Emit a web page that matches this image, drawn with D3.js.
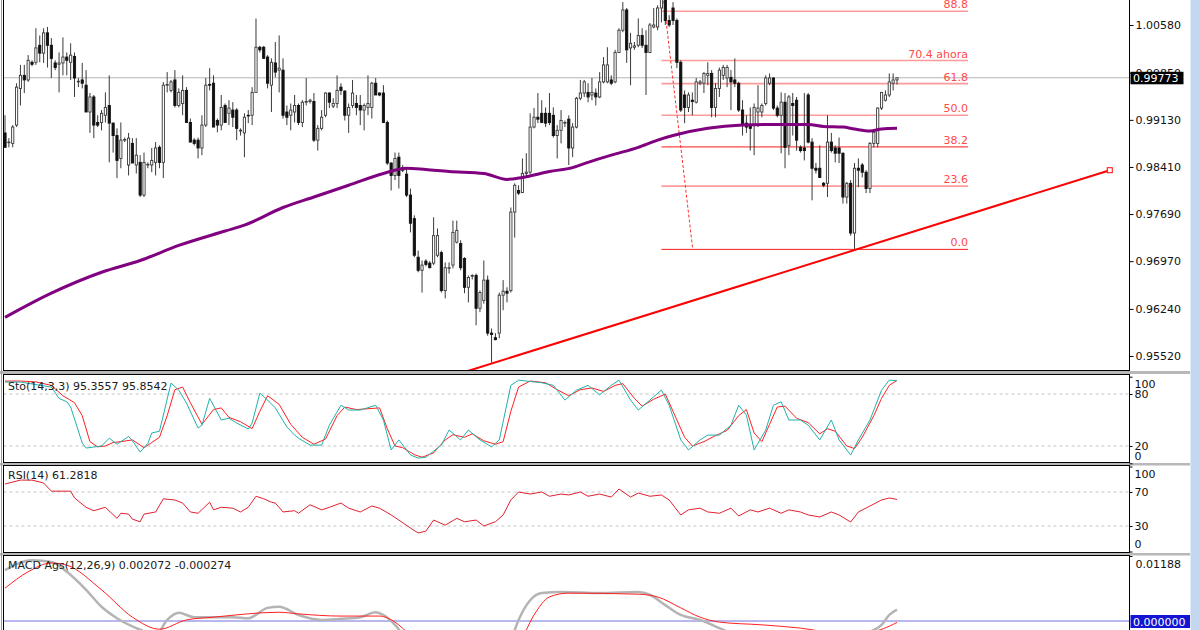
<!DOCTYPE html>
<html><head><meta charset="utf-8">
<script src="https://cdn.jsdelivr.net/npm/d3@7"></script>
<style>
html,body{margin:0;padding:0;background:#fff;overflow:hidden;}
svg{display:block;font-family:"DejaVu Sans",sans-serif;}
</style></head><body>
<svg id="c" width="1200" height="630"></svg>
<script>
// ---------------- DATA ----------------
const opens = [.9893,.9879,.9877,.9905,.9961,.9981,.9974,1.0001,1.0001,1.0027,1.0015,1.0046,1.0027,1.0000,.9998,1.0000,1.0009,1.0001,1.0010,.9971,
.9974,.9966,.9925,.9948,.9909,.9909,.9920,.9935,.9908,.9889,.9854,.9882,.9844,.9877,.9844,.9848,.9798,.9844,.9844,.9848,
.9871,.9848,.9966,.9958,.9974,.9935,.9938,.9958,.9909,.9882,.9882,.9870,.9905,.9967,.9969,.9912,.9905,.9935,.9923,.9928,
.9928,.9896,.9893,.9920,.9920,.9955,1.0024,1.0024,1.0009,.9966,1.0000,.9989,.9989,.9925,.9920,.9925,.9935,.9909,.9940,.9941,
.9941,.9882,.9900,.9920,.9954,.9934,.9938,.9963,.9957,.9920,.9935,.9938,.9935,.9928,.9932,.9932,.9969,.9954,.9954,.9909,
.9847,.9828,.9856,.9840,.9830,.9798,.9762,.9703,.9683,.9697,.9694,.9694,.9706,.9710,.9652,.9686,.9691,.9726,.9724,.9701,
.9657,.9674,.9675,.9625,.9637,.9668,.9587,.9580,.9587,.9645,.9651,.9652,.9772,.9805,.9802,.9831,.9833,.9902,.9917,.9923,
.9923,.9923,.9920,.9889,.9897,.9908,.9914,.9870,.9902,.9946,.9954,.9955,.9951,.9954,.9948,.9971,.9971,.9974,.9971,1.0016,
1.0050,1.0081,1.0023,1.0024,1.0027,1.0042,1.0027,1.0016,1.0055,1.0055,1.0084,1.0099,1.0065,1.0084,1.0065,1.0001,.9951,.9932,.9943,.9940,
.9969,.9969,.9981,.9984,.9932,.9961,.9981,.9977,.9978,.9974,.9969,.9928,.9908,.9905,.9905,.9925,.9925,.9938,.9969,.9977,
.9931,.9920,.9940,.9874,.9938,.9943,.9871,.9870,.9951,.9879,.9839,.9839,.9816,.9816,.9879,.9870,.9870,.9862,.9795,.9816,
.9740,.9839,.9844,.9833,.9808,.9877,.9877,.9931,.9943,.9951,.9969,.9974];
const highs = [.9920,.9885,.9905,.9969,.9997,.9997,1.0012,1.0004,1.0053,1.0042,1.0053,1.0055,1.0038,1.0004,1.0016,1.0039,1.0016,1.0030,1.0016,.9977,
1.0000,.9989,.9954,.9951,.9920,.9928,.9955,.9981,.9909,.9900,.9909,.9886,.9893,.9885,.9885,.9859,.9863,.9848,.9870,.9879,
.9874,.9971,.9986,.9974,.9989,.9961,.9981,.9963,.9915,.9885,.9886,.9920,.9977,.9992,.9981,.9915,.9951,.9938,.9943,.9940,
.9931,.9900,.9923,.9928,.9963,1.0068,1.0026,1.0026,1.0012,1.0007,1.0032,1.0042,1.0007,.9935,.9938,.9951,.9938,.9943,.9977,.9945,
.9954,.9905,.9928,.9955,.9955,.9946,.9981,.9969,.9958,.9938,.9974,.9951,.9951,.9938,.9981,.9971,.9977,.9955,.9966,.9912,
.9848,.9863,.9863,.9844,.9839,.9808,.9767,.9713,.9698,.9700,.9697,.9764,.9747,.9713,.9695,.9695,.9759,.9759,.9729,.9703,
.9675,.9677,.9678,.9652,.9698,.9675,.9594,.9587,.9649,.9668,.9657,.9779,.9816,.9813,.9854,.9862,.9923,.9931,.9954,.9943,
.9932,.9954,.9932,.9905,.9928,.9912,.9920,.9908,.9948,.9974,.9974,.9969,.9977,.9961,.9986,1.0009,1.0024,.9981,1.0020,1.0053,
1.0093,1.0084,1.0046,1.0032,1.0068,1.0053,1.0050,1.0061,1.0084,1.0088,1.0125,1.0111,1.0073,1.0093,1.0068,1.0004,.9958,.9955,.9955,.9977,
.9974,.9986,1.0001,.9989,.9969,.9993,.9997,.9997,.9989,1.0007,.9971,.9943,.9920,.9932,.9938,.9966,.9938,.9981,.9984,.9978,
.9935,.9955,.9954,.9951,.9954,.9948,.9874,.9954,.9954,.9885,.9847,.9874,.9818,.9920,.9893,.9874,.9886,.9863,.9818,.9821,
.9847,.9854,.9847,.9836,.9879,.9897,.9932,.9955,.9958,.9984,.9984,.9978];
const lows = [.9871,.9871,.9871,.9902,.9935,.9954,.9971,.9995,.9997,1.0001,1.0000,.9993,.9977,.9989,.9955,.9981,.9981,.9974,.9948,.9963,
.9961,.9925,.9893,.9885,.9902,.9897,.9909,.9848,.9863,.9824,.9839,.9879,.9828,.9847,.9831,.9795,.9795,.9839,.9833,.9828,
.9839,.9824,.9955,.9955,.9932,.9932,.9920,.9909,.9879,.9874,.9854,.9859,.9902,.9958,.9902,.9894,.9897,.9909,.9905,.9902,
.9882,.9889,.9856,.9908,.9905,.9954,1.0016,1.0007,.9961,.9925,.9978,.9955,.9915,.9905,.9897,.9909,.9905,.9902,.9935,.9938,
.9879,.9866,.9897,.9917,.9931,.9931,.9931,.9951,.9912,.9893,.9931,.9920,.9905,.9897,.9920,.9915,.9951,.9949,.9908,.9844,
.9805,.9821,.9808,.9833,.9795,.9741,.9703,.9680,.9649,.9689,.9686,.9691,.9703,.9649,.9640,.9678,.9686,.9724,.9683,.9648,
.9634,.9669,.9599,.9619,.9632,.9583,.9542,.9576,.9579,.9622,.9634,.9649,.9733,.9798,.9801,.9825,.9830,.9900,.9908,.9908,
.9902,.9905,.9886,.9854,.9877,.9902,.9844,.9856,.9900,.9943,.9948,.9940,.9943,.9935,.9946,.9969,.9969,.9966,.9969,1.0015,
1.0047,1.0000,.9966,1.0020,1.0024,1.0023,.9951,1.0015,1.0053,1.0050,1.0062,1.0058,1.0055,1.0058,.9992,.9925,.9908,.9925,.9920,.9938,
.9966,.9954,.9966,.9917,.9917,.9948,.9974,.9963,.9928,.9963,.9925,.9889,.9893,.9866,.9859,.9902,.9917,.9935,.9966,.9928,
.9917,.9862,.9839,.9859,.9889,.9866,.9863,.9851,.9877,.9790,.9831,.9824,.9810,.9795,.9863,.9848,.9847,.9785,.9785,.9736,
.9715,.9810,.9825,.9801,.9801,.9871,.9871,.9928,.9941,.9948,.9958,.9967];
const closes = [.9871,.9879,.9902,.9963,.9981,.9974,1.0004,.9998,1.0023,1.0015,1.0046,1.0027,1.0007,.9993,1.0000,1.0009,1.0004,1.0012,.9977,.9972,
.9969,.9925,.9948,.9905,.9905,.9923,.9932,.9908,.9889,.9851,.9882,.9883,.9885,.9847,.9859,.9798,.9848,.9845,.9851,.9870,
.9848,.9966,.9967,.9971,.9935,.9955,.9958,.9909,.9879,.9877,.9870,.9905,.9966,.9966,.9902,.9905,.9932,.9909,.9931,.9917,
.9900,.9897,.9917,.9919,.9955,1.0024,1.0020,1.0007,.9969,1.0001,.9986,.9992,.9920,.9917,.9928,.9935,.9909,.9940,.9941,.9943,
.9882,.9900,.9917,.9954,.9940,.9938,.9958,.9958,.9920,.9932,.9954,.9932,.9928,.9935,.9938,.9969,.9951,.9951,.9909,.9847,
.9828,.9854,.9828,.9836,.9798,.9755,.9706,.9683,.9691,.9692,.9687,.9736,.9736,.9652,.9687,.9687,.9741,.9744,.9687,.9657,
.9672,.9675,.9625,.9649,.9668,.9587,.9585,.9577,.9645,.9651,.9648,.9772,.9813,.9801,.9831,.9833,.9902,.9917,.9914,.9909,
.9908,.9909,.9889,.9897,.9912,.9909,.9870,.9902,.9946,.9954,.9971,.9948,.9955,.9948,.9971,.9997,.9997,.9969,1.0016,1.0050,
1.0081,1.0020,1.0030,1.0026,1.0042,1.0027,1.0016,1.0058,1.0058,1.0084,1.0099,1.0065,1.0058,1.0065,1.0001,.9928,.9932,.9951,.9941,.9971,
.9971,.9984,.9984,.9932,.9961,.9989,.9993,.9993,.9971,.9969,.9928,.9905,.9902,.9900,.9932,.9931,.9935,.9977,.9977,.9931,
.9920,.9940,.9871,.9948,.9935,.9882,.9866,.9866,.9879,.9839,.9836,.9825,.9813,.9879,.9866,.9862,.9862,.9795,.9816,.9740,
.9839,.9836,.9833,.9808,.9877,.9894,.9931,.9955,.9951,.9971,.9974,.99773];

// moving average [candle index, price]
const maPoints = [[0,.9611],[12,.9648],[25,.9680],[35,.9698],[45,.9721],[57,.9743],[62,.9752],[72,.9779],[80,.9795],[89,.9813],
[98,.9831],[104,.9839],[109,.9837],[115,.9834],[124,.9831],[130,.9822],[134,.9825],[141,.9834],[147,.9840],[151,.9848],
[157,.9859],[164,.9871],[169,.9882],[173,.9889],[182,.9900],[191,.9905],[199,.9906],[208,.9906],[212,.9903],[217,.9902],
[220,.9899],[224,.9896],[227,.9899],[231,.9900]];

const priceTicks = [1.00580, 0.99850, 0.99130, 0.98410, 0.97690, 0.96970, 0.96240, 0.95520];
const lastPrice = 0.99773;

// Fibonacci retracement
const fibHigh = 1.0125, fibLow = 0.9715;
const fibLevels = [0, 23.6, 38.2, 50.0, 61.8, 70.4, 88.8, 100];
const fibLabels = ["0.0", "23.6", "38.2", "50.0", "61.8", "70.4 ahora", "88.8", "100.0"];
const fibAnchorIdx = [170, 178.1];
const fibRightIdx = 249.4;

// trend line [index, price]
const trendIdx = [116, 286.1];
const trendPrice = [0.9522, 0.9836];

// Stochastic [index, value]
const stoMain = [[0,93.8],[4,93.8],[12,88],[14,75],[16,71],[17,65],[20,23.5],[21,17.6],[23,18.8],[25,20],[27,29],[29,22],[32,31],[33,26],[35,13],[37,23],[38,35],[40,37],[43,92.6],[45,84.5],[47,69.5],[50,40.7],[51,44],[53,75],[56,50],[58,52],[60,46.5],[63,39.6],[64,46.5],[66,81],[68,73],[70,64],[73,42],[75,32.6],[76,29],[79,21],[82,21],[84,44],[87,67],[89,61.5],[92,61.5],[96,67],[98,50],[100,15.4],[102,27],[105,9.6],[107,6],[109,7],[113,21],[115,38.4],[118,27],[120,38.4],[123,27],[126,19],[128,27],[131,90],[133,96],[139,93],[142,90],[145,73],[148,84.5],[151,90],[154,79],[157,90],[159,96],[162,73],[164,61.5],[167,73],[170,84.5],[172,67],[175,27],[177,15.4],[180,27],[182,32.6],[185,32.6],[188,44],[190,67],[192,55.7],[194,15.4],[197,38.4],[199,67],[201,71],[203,50],[206,50],[208,44],[211,27],[214,50],[216,27],[219,9.6],[221,27],[224,50],[227,84.5],[229,96],[231,95.36]];
const stoSignal = [[0,95],[4,95],[8,94],[12,90],[15,78],[18,70],[20,55],[22,25],[24,19],[26,20],[28,24],[30,25],[33,27],[36,18],[38,24],[40,30],[42,55],[44,85],[46,88],[48,70],[51,45],[54,62],[56,64],[58,53],[61,48],[64,40],[66,60],[68,78],[71,68],[74,45],[77,30],[80,22],[83,28],[86,55],[88,65],[91,62],[94,63],[97,64],[99,40],[101,20],[103,18],[106,10],[108,7],[111,12],[114,27],[116,33],[119,30],[121,34],[124,26],[127,22],[129,25],[131,60],[133,88],[136,95],[140,93],[143,85],[146,78],[149,85],[152,87],[155,83],[158,90],[160,92],[163,75],[165,66],[168,74],[171,80],[173,60],[176,30],[178,20],[181,25],[184,32],[187,38],[190,55],[192,62],[194,35],[196,25],[198,45],[200,65],[202,66],[205,52],[208,47],[211,34],[213,40],[215,37],[218,20],[220,17],[222,30],[225,55],[227,75],[229,90],[231,95.85]];
const stoLevels = [80, 20];
const stoTicks = [100, 80, 20, 0];

// RSI [index, value]
const rsiValues = [[0,79.4],[4,84],[7,84],[10,80.6],[12,71],[17,71],[18,63],[21,52],[23,48],[26,52],[29,39],[30,45],[32,44],[33,38],[35,35],[36,44],[39,46.5],[41,62],[44,60.6],[46,57],[48,46.5],[50,45],[53,58],[54,49],[56,52],[59,51],[61,46.5],[63,52],[65,65],[67,62],[69,58],[70,57],[72,46.5],[75,48],[76,45],[79,55],[82,49],[84,52],[87,57],[89,51],[92,46.5],[95,53.5],[97,51],[100,43],[102,37],[105,27.6],[107,21.8],[109,24],[111,37],[114,31],[117,39],[119,35],[122,37],[124,30],[127,35],[129,43],[131,60.6],[133,70],[136,67.6],[139,70],[141,65],[144,67.6],[146,66.5],[149,70],[151,65],[154,67.6],[157,64],[159,73.5],[162,64],[164,68.8],[167,65],[170,66.5],[172,60.6],[175,43],[177,49],[180,51],[182,46.5],[185,45],[188,51],[190,41.8],[193,49],[195,46.5],[198,51],[201,45],[203,49],[206,46.5],[208,43],[211,40.6],[214,46.5],[216,43],[219,34.7],[221,46.5],[224,53.5],[227,60.6],[229,63],[231,61.28]];
const rsiLevels = [70, 30];
const rsiTicks = [100, 70, 30, 0];

// MACD [index, value]
const macdMain = [[0,.0093],[7,.0111],[12,.0108],[16,.0090],[21,.0057],[25,.0026],[29,.0005],[35,-.0016],[39,-.0026],[42,.0002],[45,.0015],[49,.0007],[54,.0007],[59,.0007],[63,.0005],[68,.0024],[71,.0026],[76,.0011],[82,.0002],[87,.0004],[92,.0007],[96,.0016],[98,.0011],[101,-.0007],[105,-.0044],[113,-.0080],[120,-.0090],[127,-.0071],[131,-.0035],[133,.0002],[136,.0038],[139,.0051],[144,.0053],[154,.0051],[164,.0053],[167,.0048],[171,.0029],[175,.0011],[180,.0002],[185,-.0013],[193,-.0035],[206,-.0044],[219,-.0035],[224,-.0020],[227,-.0007],[229,.0011],[231,.002072]];
const macdSignal = [[0,.0060],[6,.0090],[12,.0106],[16,.0102],[25,.0057],[33,.0007],[40,-.0015],[47,.0002],[54,.0007],[71,.0016],[76,.0013],[87,.0009],[97,.0009],[101,-.0002],[105,-.0026],[115,-.0062],[128,-.0075],[133,-.0044],[137,.0011],[141,.0044],[146,.0051],[164,.0049],[169,.0044],[175,.0024],[180,.0007],[185,-.0002],[196,-.0007],[206,-.0013],[216,-.0022],[224,-.0020],[231,-.000274]];
const macdTop = 0.01188;

const stoTitle = "Sto(14,3,3) 95.3557 95.8542";
const rsiTitle = "RSI(14) 61.2818";
const macdTitle = "MACD Ags(12,26,9) 0.002072 -0.000274";

// ---------------- DRAW ----------------
const svg = d3.select("#c");
const L = 3.5, R = 1129.5;
const P = {main:[-2, 370.5], sto:[374.5, 462.5], rsi:[465.5, 552.5], macd:[555.5, 660]};
const FONT = "DejaVu Sans";

const x = d3.scaleLinear().domain([0, closes.length - 1]).range([5, 897]);
const yMain = d3.scaleLinear().domain([0.95520, 1.00580]).range([356, 25]);
const ySto = d3.scaleLinear().domain([0, 100]).range([463.3, 376.7]);
const yRsi = d3.scaleLinear().domain([0, 100]).range([551.5, 466.5]);
const yMacd = d3.scaleLinear().domain([0, macdTop]).range([621, 556]);

svg.append("rect").attr("width",1200).attr("height",630).attr("fill","#fff");

const defs = svg.append("defs");
Object.entries(P).forEach(([k,[t,b]]) => {
  defs.append("clipPath").attr("id","clip-"+k).append("rect")
    .attr("x",L+0.5).attr("y",t+0.5).attr("width",R-L-1).attr("height",b-t-1);
});

// splitters
[[371,3],[463,2.5],[553,2.5]].forEach(([yy,h]) => {
  svg.append("rect").attr("x",0).attr("y",yy).attr("width",1190).attr("height",h).attr("fill","#b8b8b8");
});

// right scrollbar-like strip
svg.append("rect").attr("x",1190).attr("y",0).attr("width",10).attr("height",630).attr("fill","#c3d7ef");
svg.append("line").attr("x1",1190.5).attr("x2",1190.5).attr("y1",0).attr("y2",630).attr("stroke","#e2ebf7");

// ---- main panel ----
const gMain = svg.append("g").attr("clip-path","url(#clip-main)");

// current price line
gMain.append("line").attr("x1",L).attr("x2",R).attr("y1",yMain(lastPrice)).attr("y2",yMain(lastPrice))
  .attr("stroke","#b4b4b4").attr("stroke-width",1);

// fib levels
const fibPrice = lv => fibLow + (fibHigh - fibLow) * lv / 100;
const strongFib = [0, 38.2];
fibLevels.forEach((lv,i) => {
  const yy = yMain(fibPrice(lv));
  const strong = strongFib.includes(lv);
  gMain.append("line").attr("x1",x(fibAnchorIdx[0])).attr("x2",x(fibRightIdx))
    .attr("y1",yy).attr("y2",yy)
    .attr("stroke", strong ? "#ff1a1a" : "#ff9a9a").attr("stroke-width", strong ? 1 : 1.6);
  if (yy > 0) {
    gMain.append("text").attr("x",x(fibRightIdx)).attr("y",yy-3).attr("text-anchor","end")
      .attr("font-family",FONT).attr("font-size",11).attr("fill","#ff4a4a").text(fibLabels[i]);
  }
});
// fib dashed anchor line
gMain.append("line").attr("x1",x(fibAnchorIdx[0])).attr("y1",yMain(fibHigh))
  .attr("x2",x(fibAnchorIdx[1])).attr("y2",yMain(fibLow))
  .attr("stroke","#ff3030").attr("stroke-width",1).attr("stroke-dasharray","3,2");

// candles
const idx = d3.range(closes.length);
const cg = gMain.append("g");
cg.selectAll("line.w").data(idx).join("line").attr("class","w")
  .attr("x1",i=>x(i)).attr("x2",i=>x(i))
  .attr("y1",i=>yMain(highs[i])).attr("y2",i=>yMain(lows[i]))
  .attr("stroke","#3a3a3a").attr("stroke-width",1);
cg.selectAll("rect.b").data(idx).join("rect").attr("class","b")
  .attr("x",i=>x(i)-1.1).attr("width",2.2)
  .attr("y",i=>yMain(Math.max(opens[i],closes[i])))
  .attr("height",i=>Math.max(0.6, Math.abs(yMain(opens[i])-yMain(closes[i]))))
  .attr("fill",i=>closes[i] >= opens[i] ? "#fff" : "#111")
  .attr("stroke",i=>closes[i] >= opens[i] ? "#3a3a3a" : "#111")
  .attr("stroke-width",0.9);

// moving average
gMain.append("path").datum(maPoints)
  .attr("d", d3.line().x(d=>x(d[0])).y(d=>yMain(d[1])).curve(d3.curveMonotoneX))
  .attr("fill","none").attr("stroke","#800080").attr("stroke-width",3);

// trend line
gMain.append("line").attr("x1",x(trendIdx[0])).attr("y1",yMain(trendPrice[0]))
  .attr("x2",x(trendIdx[1])).attr("y2",yMain(trendPrice[1]))
  .attr("stroke","#ff0000").attr("stroke-width",2);
gMain.append("rect").attr("x",x(trendIdx[1])-2.5).attr("y",yMain(trendPrice[1])-2.5)
  .attr("width",5).attr("height",5).attr("fill","#fff").attr("stroke","#ff0000").attr("stroke-width",1);

// ---- stochastic ----
const gSto = svg.append("g").attr("clip-path","url(#clip-sto)");
stoLevels.forEach(v => gSto.append("line").attr("x1",L).attr("x2",R).attr("y1",ySto(v)).attr("y2",ySto(v))
  .attr("stroke","#c4c4c4").attr("stroke-dasharray","3,3"));
const lineSto = d3.line().x(d=>x(d[0])).y(d=>ySto(d[1]));
gSto.append("path").datum(stoSignal).attr("d",lineSto).attr("fill","none").attr("stroke","#ff2020").attr("stroke-width",1);
gSto.append("path").datum(stoMain).attr("d",lineSto).attr("fill","none").attr("stroke","#20b2aa").attr("stroke-width",1);

// ---- RSI ----
const gRsi = svg.append("g").attr("clip-path","url(#clip-rsi)");
rsiLevels.forEach(v => gRsi.append("line").attr("x1",L).attr("x2",R).attr("y1",yRsi(v)).attr("y2",yRsi(v))
  .attr("stroke","#c4c4c4").attr("stroke-dasharray","3,3"));
gRsi.append("path").datum(rsiValues).attr("d",d3.line().x(d=>x(d[0])).y(d=>yRsi(d[1])))
  .attr("fill","none").attr("stroke","#e02030").attr("stroke-width",1);

// ---- MACD ----
const gMacd = svg.append("g").attr("clip-path","url(#clip-macd)");
gMacd.append("line").attr("x1",L).attr("x2",R).attr("y1",yMacd(0)).attr("y2",yMacd(0))
  .attr("stroke","#7070dc").attr("stroke-width",1);
const lineMacd = d3.line().x(d=>x(d[0])).y(d=>yMacd(d[1])).curve(d3.curveMonotoneX);
gMacd.append("path").datum(macdMain).attr("d",lineMacd).attr("fill","none").attr("stroke","#b4b4b4").attr("stroke-width",2.5);
gMacd.append("path").datum(macdSignal).attr("d",lineMacd).attr("fill","none").attr("stroke","#ff2020").attr("stroke-width",1);

// titles
[[stoTitle,390],[rsiTitle,479],[macdTitle,569]].forEach(([t,yy]) => {
  svg.append("text").attr("x",8).attr("y",yy).attr("font-family",FONT).attr("font-size",11)
    .attr("fill","#202020").text(t);
});

// panel borders
Object.entries(P).forEach(([k,[t,b]]) => {
  svg.append("rect").attr("x",L).attr("y",t).attr("width",R-L).attr("height",b-t)
    .attr("fill","none").attr("stroke","#000").attr("stroke-width",1);
});
svg.append("line").attr("x1",1.5).attr("x2",1.5).attr("y1",0).attr("y2",630).attr("stroke","#9a9a9a");

// ---- axes ----
function styleAxis(g){
  g.select(".domain").remove();
  g.attr("font-family",FONT).attr("font-size",11);
  g.selectAll(".tick line").attr("stroke","#000");
  g.selectAll(".tick text").attr("fill","#111");
}
svg.append("g").attr("transform",`translate(${R},0)`)
  .call(d3.axisRight(yMain).tickValues(priceTicks).tickSize(4).tickPadding(2).tickFormat(d3.format(".5f")))
  .call(styleAxis);

function subAxis(scale, ticks, fmt){
  const [lo, hi] = scale.domain();
  svg.append("g").attr("transform",`translate(${R},0)`)
    .call(d3.axisRight(scale).tickValues(ticks).tickSize(3).tickPadding(2).tickFormat(fmt))
    .call(styleAxis)
    .call(g => g.selectAll(".tick text").attr("y", d => d === hi ? 7.5 : (d === lo ? -7.5 : 0)));
}
subAxis(ySto, stoTicks, d3.format("d"));
subAxis(yRsi, rsiTicks, d3.format("d"));
svg.append("g").attr("transform",`translate(${R},0)`)
  .call(d3.axisRight(yMacd).tickValues([macdTop]).tickSize(3).tickPadding(3).tickFormat(d3.format(".5f")))
  .call(styleAxis)
  .call(g => g.selectAll(".tick text").attr("y",7.5));

// current price box
const yp = yMain(lastPrice);
svg.append("rect").attr("x",1130.5).attr("y",yp-6).attr("width",53).attr("height",12.5).attr("fill","#000");
svg.append("text").attr("x",1133).attr("y",yp+4.5).attr("font-family",FONT).attr("font-size",11)
  .attr("fill","#fff").text(d3.format(".5f")(lastPrice));

// macd zero box
const y0 = yMacd(0);
svg.append("rect").attr("x",1130.5).attr("y",y0-6).attr("width",59.5).attr("height",13).attr("fill","#1414d2");
svg.append("text").attr("x",1133).attr("y",y0+4.5).attr("font-family",FONT).attr("font-size",11)
  .attr("fill","#fff").text(d3.format(".6f")(0));
</script>
</body></html>
